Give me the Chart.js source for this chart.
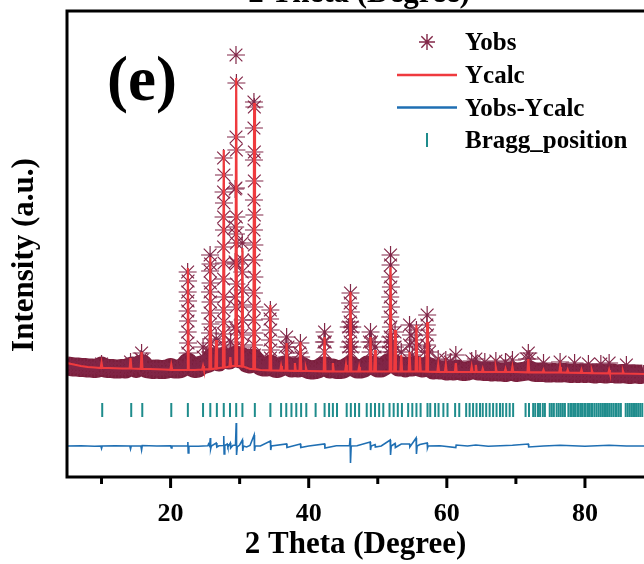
<!DOCTYPE html>
<html>
<head>
<meta charset="utf-8">
<script src="https://cdn.jsdelivr.net/npm/chart.js@4.4.1/dist/chart.umd.min.js"></script>
<style>
  html, body { margin: 0; padding: 0; background: #fff; overflow: hidden; }
  #wrap { width: 644px; height: 564px; }
</style>
</head>
<body>
<div id="wrap"><canvas id="xrd" width="644" height="564"></canvas></div>
<script>
// axis range (right side of the panel is cropped in the reference)
const X_MIN = 5;
const X_MAX = 88.55;
const Y_MIN = 0;
const Y_MAX = 4660;

// Yobs background band, one value every 0.5 deg starting at 5 deg
const OBS_START = 5;
const OBS_STEP = 0.5;
const obsBg = [
  1110, 1105, 1100, 1100, 1095,
  1095, 1090, 1090, 1085, 1090,
  1110, 1090, 1085, 1085, 1080,
  1080, 1085, 1080, 1100, 1110,
  1085, 1120, 1130, 1085, 1080,
  1075, 1080, 1075, 1075, 1080,
  1095, 1080, 1080, 1085, 1110,
  1150, 1100, 1085, 1090, 1120,
  1130, 1140, 1200, 1180, 1150,
  1200, 1180, 1170, 1200, 1220,
  1180, 1200, 1140, 1130, 1190,
  1150, 1110, 1100, 1100, 1130,
  1090, 1085, 1100, 1120, 1110,
  1090, 1100, 1090, 1110, 1090,
  1075, 1070, 1075, 1085, 1110,
  1110, 1080, 1090, 1075, 1075,
  1080, 1100, 1120, 1100, 1080,
  1080, 1090, 1120, 1120, 1110,
  1090, 1090, 1110, 1140, 1150,
  1130, 1100, 1110, 1090, 1110,
  1100, 1120, 1100, 1090, 1110,
  1100, 1070, 1080, 1070, 1070,
  1060, 1070, 1060, 1080, 1060,
  1055, 1060, 1070, 1075, 1060,
  1060, 1055, 1060, 1050, 1060,
  1050, 1050, 1045, 1055, 1060,
  1045, 1050, 1055, 1060, 1070,
  1050, 1045, 1045, 1050, 1040,
  1040, 1045, 1040, 1040, 1045,
  1040, 1035, 1040, 1035, 1040,
  1035, 1040, 1035, 1030, 1040,
  1035, 1030, 1035, 1040, 1030,
  1030, 1035, 1030, 1025, 1030,
  1030, 1025, 1030
];

// Yobs points standing out of the band: [2theta, intensity]
const obsPeaks = [
  [10.0, 1130], [14.2, 1150], [15.8, 1240], [15.7, 1180], [15.9, 1170],
  [22.47, 2050], [22.53, 1960], [22.47, 1850], [22.53, 1760], [22.47, 1660],
  [22.53, 1560], [22.47, 1450], [22.53, 1340], [22.47, 1240],
  [24.7, 1300], [24.7, 1200],
  [25.72, 2220], [25.78, 2130], [25.72, 2060], [25.78, 1940], [25.72, 1850],
  [25.78, 1750], [25.72, 1640], [25.78, 1530], [25.72, 1440], [25.78, 1340], [25.72, 1250],
  [26.6, 1380], [26.5, 1290], [26.7, 1220],
  [27.67, 3190], [27.73, 3020], [27.67, 2850], [27.73, 2740], [27.67, 2600],
  [27.73, 2470], [27.67, 2300], [27.73, 2140], [27.67, 1980], [27.73, 1800],
  [27.67, 1670], [27.73, 1550], [27.67, 1430], [27.73, 1320], [27.67, 1230],
  [28.65, 1250], [28.7, 1350],
  [29.35, 2880], [29.35, 2500], [29.35, 2150], [29.35, 1800], [29.35, 1500],
  [29.47, 4220], [29.53, 3940], [29.47, 3400], [29.53, 3270], [29.47, 2890],
  [29.53, 2600], [29.47, 2430], [29.53, 2340], [29.47, 2130], [29.53, 1930],
  [29.47, 1700], [29.53, 1470], [29.47, 1300], [29.53, 1200],
  [30.37, 2340], [30.43, 2170], [30.37, 2050], [30.43, 1870], [30.37, 1720],
  [30.43, 1570], [30.37, 1420], [30.43, 1300], [30.37, 1200],
  [32.07, 3750], [32.13, 3700], [32.07, 3490], [32.13, 3250], [32.07, 3170],
  [32.13, 2960], [32.07, 2770], [32.13, 2620], [32.07, 2470], [32.13, 2320],
  [32.07, 2170], [32.13, 2000], [32.07, 1840], [32.13, 1700], [32.07, 1570],
  [32.13, 1440], [32.07, 1320], [32.13, 1220],
  [34.45, 1670], [34.4, 1580], [34.5, 1470], [34.4, 1370], [34.5, 1270], [34.45, 1190],
  [36.8, 1400], [36.6, 1300], [37.0, 1300], [36.8, 1200],
  [38.8, 1340], [38.7, 1240], [38.9, 1200],
  [42.3, 1450], [42.2, 1350], [42.4, 1350], [42.3, 1250],
  [46.05, 1840], [46.0, 1740], [46.1, 1650], [46.0, 1550], [46.1, 1450],
  [46.0, 1350], [46.1, 1250], [45.8, 1500], [46.3, 1500], [45.8, 1300], [46.3, 1300],
  [48.95, 1450], [48.8, 1350], [49.1, 1350], [49.6, 1300], [48.95, 1250], [49.6, 1200],
  [51.85, 2220], [51.85, 2120], [51.8, 2000], [51.9, 1900], [51.8, 1800],
  [51.9, 1700], [51.8, 1600], [51.9, 1500], [51.8, 1400], [51.9, 1300],
  [51.6, 1350], [52.1, 1350], [52.5, 1450], [52.5, 1300], [51.6, 1250], [52.1, 1250],
  [53.4, 1250],
  [54.6, 1520], [54.8, 1420], [55.6, 1470], [55.4, 1370], [54.6, 1320], [55.6, 1300], [55.0, 1220],
  [57.15, 1620], [57.1, 1520], [57.2, 1420], [57.1, 1320], [56.8, 1250], [57.5, 1250],
  [58.75, 1180], [59.85, 1170], [60.5, 1150], [61.3, 1220],
  [63.6, 1160], [64.2, 1180], [65.5, 1150],
  [67.1, 1160], [68.5, 1150], [69.5, 1170],
  [71.8, 1240], [71.6, 1180], [72.0, 1180],
  [74.0, 1140], [76.4, 1150], [78.5, 1140], [80.5, 1130], [82.3, 1130], [83.5, 1140], [86.0, 1120]
];

// Ycalc background anchors [2theta, intensity]
const calcBg = [
  [5, 1140], [6, 1125], [7, 1110], [8, 1100], [9, 1095], [11, 1090], [13, 1085],
  [17, 1080], [19, 1075], [21, 1070], [23.5, 1070], [27, 1090], [28.2, 1100],
  [29, 1110], [30, 1110], [31.5, 1080], [33, 1070], [35, 1065], [40, 1060],
  [44, 1055], [50, 1055], [56.5, 1055], [60, 1050], [70, 1050], [75, 1045],
  [80, 1040], [88.6, 1030]
];

// Ycalc reflections [2theta, top, foot]
const calcPeaks = [
  [10.0, 1140, 1090], [14.2, 1190, 1085], [15.8, 1250, 1082], [20.1, 1120, 1072],
  [22.5, 2090, 1070], [24.7, 1110, 1075], [25.75, 2200, 1078], [26.6, 1370, 1085],
  [27.7, 3270, 1095], [28.65, 1200, 1105], [29.5, 3990, 1110], [30.4, 2290, 1105],
  [32.1, 3740, 1078], [34.45, 1720, 1066], [36.0, 1110, 1064], [36.8, 1340, 1063],
  [38.0, 1140, 1062], [38.8, 1350, 1061], [39.6, 1090, 1060], [42.3, 1400, 1057],
  [43.5, 1140, 1056], [45.4, 1120, 1055], [46.05, 1850, 1055], [47.3, 1100, 1055],
  [48.95, 1400, 1055], [49.6, 1270, 1055], [51.85, 2100, 1055], [52.5, 1470, 1055],
  [53.4, 1220, 1055], [54.6, 1250, 1055], [55.6, 1520, 1055], [56.1, 1200, 1055],
  [57.15, 1550, 1053], [58.75, 1120, 1051], [59.85, 1120, 1050], [61.3, 1140, 1050],
  [63.6, 1100, 1050], [64.2, 1120, 1050], [65.2, 1080, 1050], [67.1, 1090, 1050],
  [68.5, 1080, 1050], [69.5, 1100, 1050], [71.8, 1180, 1047], [74.0, 1070, 1046],
  [76.4, 1100, 1045], [77.5, 1070, 1044], [79.5, 1070, 1041], [81.0, 1065, 1039],
  [83.5, 1070, 1037], [85.5, 1060, 1035]
];

// Yobs - Ycalc difference curve [2theta, intensity]
const diffCurve = [
  [5, 310], [7, 312], [9, 308], [9.9, 310], [10.0, 285], [10.1, 310], [12, 312],
  [14.1, 310], [14.2, 280], [14.3, 310], [15.7, 310], [15.8, 270], [15.9, 315],
  [18, 310], [20, 312], [20.1, 290], [20.2, 310], [22.4, 310], [22.5, 350],
  [22.55, 240], [22.65, 310], [24, 308], [25.4, 312], [25.5, 330], [25.65, 310],
  [25.75, 390], [25.8, 280], [25.9, 310], [26.6, 340], [26.7, 300], [27, 312],
  [27.6, 315], [27.7, 410], [27.75, 230], [27.85, 315], [28.2, 330], [28.3, 300],
  [28.65, 340], [28.7, 290], [29.0, 315], [29.4, 320], [29.5, 540], [29.55, 220],
  [29.65, 300], [30.0, 320], [30.4, 370], [30.45, 260], [30.55, 310], [31.0, 300],
  [31.5, 315], [32.1, 420], [32.15, 260], [32.25, 310], [33, 310], [34.45, 360],
  [34.5, 270], [34.6, 310], [36.8, 330], [36.85, 295], [38.8, 330], [38.85, 295],
  [40, 310], [42.3, 330], [42.35, 290], [44, 312], [45.9, 312], [46.0, 390],
  [46.05, 140], [46.15, 310], [47, 312], [48.9, 350], [48.95, 270], [49.05, 310],
  [49.6, 325], [49.65, 300], [50.5, 310], [51.8, 370], [51.85, 220], [51.95, 310],
  [52.5, 335], [52.55, 295], [53.4, 330], [54.6, 330], [54.65, 300], [55.55, 390],
  [55.6, 230], [55.7, 310], [56.1, 325], [57.15, 340], [57.2, 290], [57.3, 310],
  [59, 312], [61.3, 295], [61.35, 320], [63, 310], [64.2, 320], [66, 308],
  [69.5, 318], [71.8, 330], [71.85, 300], [74, 310], [76.4, 318], [80, 308],
  [83.5, 318], [86, 310], [88.6, 310]
];

// Bragg reflection positions (2theta) and the level of their tick row
const BRAGG_LEVEL = 670;
const braggPos = [
  10.1, 14.3, 15.9, 20.1, 22.5, 24.7, 25.75, 26.7, 27.7, 28.6, 29.5, 30.4, 32.2,
  34.45, 36.0, 36.75, 37.5, 38.2, 38.9, 39.65, 41.0, 42.3, 42.95, 43.5, 44.1,
  45.5, 46.1, 46.7, 47.3, 48.4, 49.0, 49.6, 50.2, 50.8, 51.7, 52.3, 52.9, 53.5,
  54.4, 55.0, 55.6, 56.2, 57.2, 57.6, 58.3, 58.8, 59.5, 60.1, 61.2, 61.8, 62.8,
  63.3, 63.8, 64.3, 64.8, 65.2, 65.7, 66.2, 66.7, 67.2, 67.7, 68.1, 68.6, 69.1,
  69.6, 71.4, 71.9, 72.5, 72.8, 73.2, 73.5, 73.9, 74.2, 74.9, 75.2, 75.5, 75.9,
  76.2, 76.5, 76.8, 77.1, 77.6, 77.9, 78.1, 78.4, 78.6, 78.9, 79.1, 79.4, 79.6,
  79.9, 80.1, 80.4, 80.6, 80.9, 81.1, 81.4, 81.7, 82.0, 82.3, 82.6, 82.9, 83.2,
  83.5, 83.8, 84.1, 84.4, 84.6, 84.9, 85.2, 85.9, 86.2, 86.5, 86.8, 87.1, 87.4,
  87.7, 88.0, 88.3
];

const xTickValues = [10, 20, 30, 40, 50, 60, 70, 80];

const SERIF = '"Times New Roman", "Liberation Serif", serif';
const COL_OBS = '#822748';
const COL_BAND = '#7a1f3c';
const COL_CALC = '#ef3a3e';
const COL_DIFF = '#1f6fb3';
const COL_BRAGG = '#1f8c8c';

// build datasets
const bandPoints = obsBg.map((v, i) => ({ x: OBS_START + i * OBS_STEP, y: v }));
const obsPoints = bandPoints.concat(obsPeaks.map(p => ({ x: p[0], y: p[1] })));

const calcPoints = calcBg.map(p => ({ x: p[0], y: p[1] }));
calcPeaks.forEach(p => {
  calcPoints.push({ x: p[0] - 0.12, y: p[2] }, { x: p[0], y: p[1] }, { x: p[0] + 0.12, y: p[2] });
});
calcPoints.sort((a, b) => a.x - b.x);

const diffPoints = diffCurve.map(p => ({ x: p[0], y: p[1] }));
const braggPoints = braggPos.map(x => ({ x: x, y: BRAGG_LEVEL }));

// frame, minor/major ticks, y title, legend and panel letter
const decorPlugin = {
  id: 'decor',
  afterDraw(chart) {
    const ctx = chart.ctx;
    const area = chart.chartArea;
    const xs = chart.scales.x;
    ctx.save();

    // frame (right side is cropped)
    ctx.strokeStyle = '#000';
    ctx.lineWidth = 3;
    ctx.beginPath();
    ctx.moveTo(area.right + 2, area.top);
    ctx.lineTo(area.left, area.top);
    ctx.lineTo(area.left, area.bottom);
    ctx.lineTo(area.right + 2, area.bottom);
    ctx.stroke();

    // outward tick marks
    ctx.lineWidth = 3;
    xTickValues.forEach(v => {
      const px = xs.getPixelForValue(v);
      const len = v % 20 === 0 ? 11 : 7;
      ctx.beginPath();
      ctx.moveTo(px, area.bottom);
      ctx.lineTo(px, area.bottom + len);
      ctx.stroke();
    });

    // y axis title
    ctx.fillStyle = '#000';
    ctx.font = 'bold 31px ' + SERIF;
    ctx.textAlign = 'center';
    ctx.textBaseline = 'middle';
    ctx.save();
    ctx.translate(25, 255);
    ctx.rotate(-Math.PI / 2);
    ctx.fillText('Intensity (a.u.)', 0, 0);
    ctx.restore();

    // panel letter
    ctx.textAlign = 'left';
    ctx.textBaseline = 'alphabetic';
    ctx.font = 'bold 63px ' + SERIF;
    ctx.fillText('(e)', 107, 100);

    // axis title of the panel above, cut by the crop
    ctx.textAlign = 'center';
    ctx.font = 'bold 31px ' + SERIF;
    ctx.fillText('2 Theta (Degree)', 359, 2);

    // legend
    ctx.textAlign = 'left';
    ctx.font = 'bold 25px ' + SERIF;
    const rows = [
      { label: 'Yobs', base: 50, kind: 'star' },
      { label: 'Ycalc', base: 83, kind: 'line', color: COL_CALC },
      { label: 'Yobs-Ycalc', base: 115.5, kind: 'line', color: COL_DIFF },
      { label: 'Bragg_position', base: 148, kind: 'tick' }
    ];
    rows.forEach(r => {
      const cy = r.base - 8;
      if (r.kind === 'star') {
        ctx.strokeStyle = COL_OBS;
        ctx.lineWidth = 1.4;
        const rad = 8;
        ctx.beginPath();
        for (let k = 0; k < 4; k++) {
          const a = k * Math.PI / 4;
          ctx.moveTo(427 - Math.cos(a) * rad, cy - Math.sin(a) * rad);
          ctx.lineTo(427 + Math.cos(a) * rad, cy + Math.sin(a) * rad);
        }
        ctx.stroke();
      } else if (r.kind === 'line') {
        ctx.strokeStyle = r.color;
        ctx.lineWidth = 2.5;
        ctx.beginPath();
        ctx.moveTo(397, cy);
        ctx.lineTo(457, cy);
        ctx.stroke();
      } else {
        ctx.strokeStyle = COL_BRAGG;
        ctx.lineWidth = 2;
        ctx.beginPath();
        ctx.moveTo(427, cy - 7);
        ctx.lineTo(427, cy + 7);
        ctx.stroke();
      }
      ctx.fillStyle = '#000';
      ctx.fillText(r.label, 465, r.base);
    });

    ctx.restore();
  }
};

new Chart(document.getElementById('xrd').getContext('2d'), {
  type: 'scatter',
  data: {
    datasets: [
      {
        label: 'Ycalc',
        data: calcPoints,
        showLine: true,
        borderColor: COL_CALC,
        borderWidth: 2.2,
        pointRadius: 0,
        tension: 0,
        clip: 0,
        order: 1
      },
      {
        label: 'Yobs-Ycalc',
        data: diffPoints,
        showLine: true,
        borderColor: COL_DIFF,
        borderWidth: 1.6,
        pointRadius: 0,
        tension: 0,
        clip: 0,
        order: 1
      },
      {
        label: 'Bragg_position',
        data: braggPoints,
        showLine: false,
        pointStyle: 'line',
        rotation: 90,
        pointRadius: 7,
        borderColor: COL_BRAGG,
        borderWidth: 2,
        clip: 0,
        order: 1
      },
      {
        label: 'Yobs',
        data: obsPoints,
        showLine: false,
        pointStyle: 'star',
        pointRadius: 9,
        borderColor: COL_OBS,
        borderWidth: 1.2,
        clip: 0,
        order: 2
      },
      {
        label: 'Yobs band',
        data: bandPoints,
        showLine: true,
        borderColor: COL_BAND,
        borderWidth: 19,
        borderJoinStyle: 'round',
        pointRadius: 0,
        tension: 0,
        clip: 0,
        order: 3
      }
    ]
  },
  options: {
    responsive: false,
    animation: false,
    devicePixelRatio: 1,
    layout: { autoPadding: false, padding: { left: 0, top: 11, right: 0, bottom: 0 } },
    plugins: {
      legend: { display: false },
      tooltip: { enabled: false }
    },
    scales: {
      x: {
        type: 'linear',
        min: X_MIN,
        max: X_MAX,
        afterFit: s => { s.height = 87; s.paddingLeft = 0; s.paddingRight = 0; },
        grid: { display: false },
        border: { display: false },
        ticks: {
          stepSize: 10,
          autoSkip: false,
          includeBounds: false,
          maxRotation: 0,
          padding: 14,
          color: '#000',
          font: { family: SERIF, size: 26, weight: 'bold' },
          callback: v => (v % 20 === 0 ? String(v) : '')
        },
        title: {
          display: true,
          text: '2 Theta (Degree)',
          color: '#000',
          font: { family: SERIF, size: 31, weight: 'bold' },
          padding: { top: 0, bottom: 0 }
        }
      },
      y: {
        type: 'linear',
        min: Y_MIN,
        max: Y_MAX,
        afterFit: s => { s.width = 67; },
        grid: { display: false },
        border: { display: false },
        ticks: { display: false },
        title: { display: false }
      }
    }
  },
  plugins: [decorPlugin]
});
</script>
</body>
</html>
